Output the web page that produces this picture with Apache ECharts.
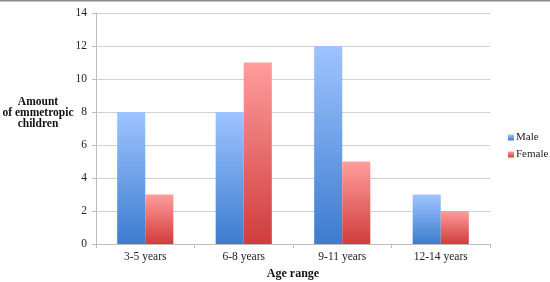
<!DOCTYPE html>
<html><head><meta charset="utf-8">
<script src="https://cdn.jsdelivr.net/npm/echarts@6/dist/echarts.min.js"></script>
<style>html,body{margin:0;padding:0;background:#fff}#c{width:550px;height:282px}</style>
</head><body><div id="c"></div>
<script>
var categories = ['3-5 years', '6-8 years', '9-11 years', '12-14 years'];
var maleValues = [8, 8, 12, 3];
var femaleValues = [3, 11, 5, 2];
var yTicks = [0, 2, 4, 6, 8, 10, 12, 14];

var FONT = '"Liberation Serif", "DejaVu Serif", serif';
function grad(top, bottom) {
  return new echarts.graphic.LinearGradient(0, 0, 0, 1, [
    {offset: 0, color: top}, {offset: 1, color: bottom}
  ]);
}
var chart = echarts.init(document.getElementById('c'), null, {renderer: 'canvas'});
chart.setOption({
  animation: false,
  backgroundColor: '#fff',
  grid: {left: 96, right: 60, top: 13, bottom: 38, containLabel: false, outerBoundsMode: 'none'},
  legend: {
    orient: 'vertical', left: 503, top: 127,
    itemWidth: 6, itemHeight: 6, itemGap: 6, icon: 'rect',
    textStyle: {fontFamily: FONT, fontSize: 11, color: '#222', padding: [0, 0, 0, -3]},
    data: ['Male', 'Female']
  },
  xAxis: {
    type: 'category', data: categories,
    name: 'Age range', nameLocation: 'middle', nameGap: 23,
    nameTextStyle: {fontFamily: FONT, fontSize: 12, fontWeight: 'bold', color: '#111'},
    axisLine: {lineStyle: {color: '#bdbdbd'}},
    axisTick: {show: true, length: 4, lineStyle: {color: '#bdbdbd'}},
    axisLabel: {fontFamily: FONT, fontSize: 11.5, color: '#222', margin: 7}
  },
  yAxis: {
    type: 'value', min: 0, max: 14, interval: 2,
    axisLine: {show: true, lineStyle: {color: '#bdbdbd'}},
    axisTick: {show: true, length: 4, lineStyle: {color: '#bdbdbd'}},
    splitLine: {lineStyle: {color: '#d0d0d0'}},
    axisLabel: {fontFamily: FONT, fontSize: 11.5, color: '#222', margin: 9,
      formatter: function (v) { return yTicks.indexOf(v) >= 0 ? String(v) : ''; }}
  },
  graphic: [
    {type: 'rect', x: 0, y: 0, shape: {width: 550, height: 1.5}, style: {fill: '#8a8a8a'}},
    {type: 'text', x: 38, y: 97,
      style: {text: 'Amount\nof emmetropic\nchildren', fontFamily: FONT, fontSize: 11.5, fontWeight: 'bold',
        fill: '#111', align: 'center', verticalAlign: 'top', lineHeight: 11}}
  ],
  series: [
    {name: 'Male', type: 'bar', data: maleValues, barWidth: '28.5%', barGap: '0%',
      itemStyle: {color: grad('#9ec4ff', '#3d7ccf')}},
    {name: 'Female', type: 'bar', data: femaleValues, barWidth: '28.5%',
      itemStyle: {color: grad('#ff9d9d', '#d03c3c')}}
  ]
});
</script></body></html>
